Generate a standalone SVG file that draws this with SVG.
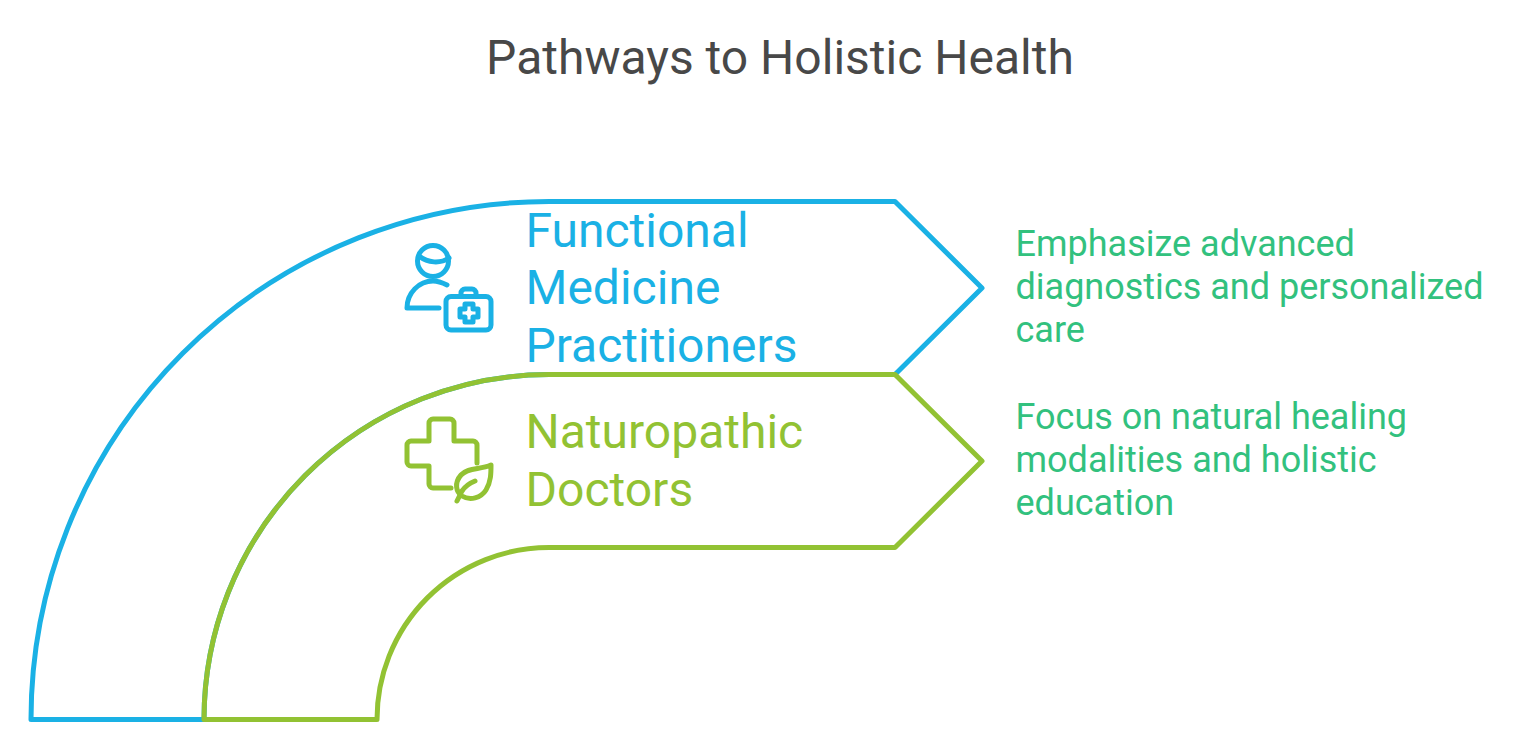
<svg xmlns="http://www.w3.org/2000/svg" width="1529" height="752" viewBox="0 0 1529 752">
<style>
text{font-family:Roboto,"Liberation Sans",sans-serif}
.title{font-size:48px;fill:#484848}
.label{font-size:48px}
.note{font-size:36px;fill:#32C17E}
.shape{fill:none;stroke-width:5;stroke-linejoin:round;stroke-linecap:round}
.icon{fill:none;stroke-width:5;stroke-linejoin:round;stroke-linecap:round}
.blue{stroke:#1AB1E5}
.green{stroke:#92C233}
.tblue{fill:#1AB1E5}
.tgreen{fill:#92C233}
</style>
<rect width="1529" height="752" fill="#fff"/>
<text id="title" class="title" x="780" y="74" text-anchor="middle">Pathways to Holistic Health</text>
<g id="node-functional">
<path class="shape blue" d="M31,719.5 A518,518 0 0 1 549,201.5 L895,201.5 L982,288 L895,374.5 L549,374.5 A345,345 0 0 0 204,719.5 Z"/>
<g class="icon blue">
<circle cx="433" cy="261" r="15.5"/>
<path d="M419,256 C428,263 440,264 449,258"/>
<path d="M439,308 L407,308 C407,293 419,281 433,281 C438,281 443,283 447,285"/>
<rect x="446" y="296.5" width="45" height="33.5" rx="5"/>
<path d="M461,296 V293 A4,4 0 0 1 465,289 H472 A4,4 0 0 1 476,293 V296"/>
<path d="M465,304 H473 V309 H478 V317 H473 V322 H465 V317 H460 V309 H465 Z"/>
</g>
<text class="label tblue" x="525.5" y="247">Functional</text>
<text class="label tblue" x="525.5" y="304">Medicine</text>
<text class="label tblue" x="525.5" y="362">Practitioners</text>
</g>
<g id="node-naturopathic">
<path class="shape green" d="M204,719.5 A345,345 0 0 1 549,374.5 L895,374.5 L982,461 L895,547.5 L549,547.5 A172,172 0 0 0 377,719.5 Z"/>
<g class="icon green">
<path d="M451,488 H433 A4,4 0 0 1 429,484 V466 H411 A4,4 0 0 1 407,462 V445 A4,4 0 0 1 411,441 H429 V423 A4,4 0 0 1 433,419 H450 A4,4 0 0 1 454,423 V441 H473 A4,4 0 0 1 477,445 V463"/>
<path d="M491,465 C480,470 468,467 461,475 C454,483 456,492 462,496 C470,501 481,498 486,490 C491,482 491,473 491,465 Z"/>
<path d="M457,501 L462,491 C466,485 470,483 475,481"/>
</g>
<text class="label tgreen" x="525.5" y="448">Naturopathic</text>
<text class="label tgreen" x="525.5" y="506">Doctors</text>
</g>
<g id="note-functional">
<text class="note" x="1015.5" y="256">Emphasize advanced</text>
<text class="note" x="1015.5" y="299.2">diagnostics and personalized</text>
<text class="note" x="1015.5" y="342.4">care</text>
</g>
<g id="note-naturopathic">
<text class="note" x="1015.5" y="429">Focus on natural healing</text>
<text class="note" x="1015.5" y="472.2">modalities and holistic</text>
<text class="note" x="1015.5" y="515.4">education</text>
</g>
<g id="connectors"></g>
</svg>
